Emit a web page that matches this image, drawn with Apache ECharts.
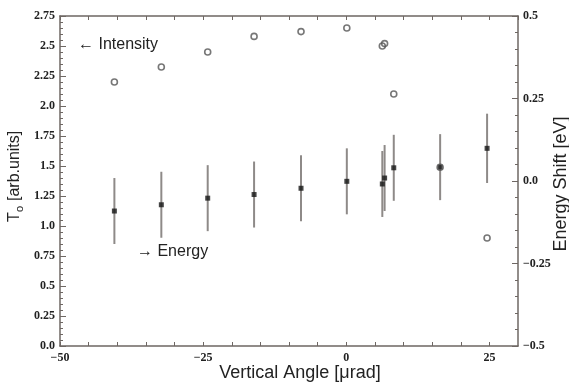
<!DOCTYPE html>
<html>
<head>
<meta charset="utf-8">
<script src="https://cdn.jsdelivr.net/npm/echarts@6/dist/echarts.min.js"></script>
<style>
  html, body { margin: 0; padding: 0; background: #fff; }
  #chart { width: 569px; height: 382px; }
</style>
</head>
<body>
<div id="chart"></div>
<script>
// Vertical angle of each measurement [µrad]
const angle = [-40.5, -32.3, -24.2, -16.1, -7.9, 0.1, 6.3, 6.7, 8.3, 16.4, 24.6];
// Transmitted intensity T_o [arb. units] (left axis)
const intensity = [2.20, 2.325, 2.45, 2.58, 2.62, 2.65, 2.50, 2.52, 2.10, 1.49, 0.90];
// Energy shift [eV] (right axis) and its error half-width
const energy = [-0.091, -0.072, -0.052, -0.041, -0.022, -0.001, -0.009, 0.009, 0.040, 0.042, 0.099];
const energyErr = [0.10, 0.10, 0.10, 0.10, 0.10, 0.10, 0.10, 0.10, 0.10, 0.10, 0.105];

// Tick labels
const xTickLabels = { '-50': '\u221250', '-25': '\u221225', '0': '0', '25': '25' };
const leftTickLabels = ['0.0', '0.25', '0.5', '0.75', '1.0', '1.25', '1.5', '1.75', '2.0', '2.25', '2.5', '2.75'];
const rightTickLabels = ['\u22120.5', '\u22120.25', '0.0', '0.25', '0.5'];

const axisColor = '#6e6763';
const sans = '"Liberation Sans", Arial, sans-serif';
const serif = '"Liberation Serif", "Times New Roman", serif';
const tickLabelStyle = { fontFamily: serif, fontWeight: 'bold', fontSize: 12, color: '#222' };
const frameLine = { onZero: false, lineStyle: { color: axisColor, width: 1.5 } };

const chart = echarts.init(document.getElementById('chart'), null, { renderer: 'canvas' });

const intensityData = angle.map((a, i) => [a, intensity[i]]);
const energyData = angle.map((a, i) => [a, energy[i]]);
const errData = angle.map((a, i) => [a, energy[i] - energyErr[i], energy[i] + energyErr[i]]);

chart.setOption({
  animation: false,
  backgroundColor: '#fff',
  grid: { left: 60, right: 51, top: 16, bottom: 36 },
  xAxis: [
    {
      type: 'value', position: 'bottom', min: -50, max: 30, interval: 5,
      axisLine: frameLine,
      axisTick: { inside: true, length: 4, lineStyle: { color: axisColor } },
      axisLabel: Object.assign({ margin: 6, showMaxLabel: false,
        formatter: v => (xTickLabels[String(v)] !== undefined ? xTickLabels[String(v)] : '') }, tickLabelStyle),
      splitLine: { show: false }
    },
    {
      type: 'value', position: 'top', min: -50, max: 30, interval: 5,
      axisLine: frameLine,
      axisTick: { inside: true, length: 4, lineStyle: { color: axisColor } },
      axisLabel: { show: false },
      splitLine: { show: false }
    }
  ],
  yAxis: [
    {
      type: 'value', position: 'left', min: 0, max: 2.75, interval: 0.25,
      axisLine: frameLine,
      axisTick: { inside: true, length: 6, lineStyle: { color: axisColor } },
      minorTick: { show: true, splitNumber: 5, length: 3, lineStyle: { color: axisColor } },
      axisLabel: Object.assign({ margin: 5, formatter: (v, i) => leftTickLabels[i] }, tickLabelStyle),
      splitLine: { show: false }, minorSplitLine: { show: false }
    },
    {
      type: 'value', position: 'right', min: -0.5, max: 0.5, interval: 0.25,
      axisLine: frameLine,
      axisTick: { inside: true, length: 6, lineStyle: { color: axisColor } },
      minorTick: { show: true, splitNumber: 5, length: 3, lineStyle: { color: axisColor } },
      axisLabel: Object.assign({ margin: 5, formatter: (v, i) => rightTickLabels[i] }, tickLabelStyle),
      splitLine: { show: false }, minorSplitLine: { show: false }
    }
  ],
  series: [
    {
      name: 'Energy error',
      type: 'custom',
      xAxisIndex: 0, yAxisIndex: 1,
      data: errData,
      encode: { x: 0, y: [1, 2] },
      renderItem: (params, api) => {
        const p0 = api.coord([api.value(0), api.value(1)]);
        const p1 = api.coord([api.value(0), api.value(2)]);
        return {
          type: 'line',
          shape: { x1: p0[0], y1: p0[1], x2: p1[0], y2: p1[1] },
          style: { stroke: '#8e8a88', lineWidth: 2 }
        };
      },
      z: 2
    },
    {
      name: 'Energy',
      type: 'scatter',
      xAxisIndex: 0, yAxisIndex: 1,
      data: energyData,
      symbol: 'rect', symbolSize: 5,
      itemStyle: { color: '#151515' },
      z: 3
    },
    {
      name: 'Intensity',
      type: 'scatter',
      xAxisIndex: 0, yAxisIndex: 0,
      data: intensityData,
      symbol: 'circle', symbolSize: 6,
      itemStyle: { color: 'rgba(255,255,255,0)', borderColor: '#555', borderWidth: 1.6 },
      z: 4
    }
  ],
  graphic: [
    {
      type: 'text', left: 78, top: 37,
      style: { text: '\u2190 Intensity', font: '16px ' + sans, fill: '#222' }
    },
    {
      type: 'text', left: 137, top: 244,
      style: { text: '\u2192 Energy', font: '16px ' + sans, fill: '#222' }
    },
    {
      type: 'text', x: 300, y: 373,
      style: { text: 'Vertical Angle [\u03bcrad]', font: '18px ' + sans, fill: '#222',
        align: 'center', verticalAlign: 'middle' }
    },
    {
      type: 'text', x: 561, y: 184, rotation: Math.PI / 2,
      style: { text: 'Energy Shift [eV]', font: '18px ' + sans, fill: '#222',
        align: 'center', verticalAlign: 'middle' }
    },
    {
      type: 'group', x: 15, y: 176, rotation: Math.PI / 2,
      children: [
        { type: 'text', x: -46, y: 0,
          style: { text: 'T', font: '16px ' + sans, fill: '#222', align: 'left', verticalAlign: 'middle' } },
        { type: 'text', x: -36, y: 5,
          style: { text: 'o', font: '11px ' + sans, fill: '#222', align: 'left', verticalAlign: 'middle' } },
        { type: 'text', x: -25, y: 0,
          style: { text: '[arb.units]', font: '16px ' + sans, fill: '#222', align: 'left', verticalAlign: 'middle' } }
      ]
    }
  ]
});
</script>
</body>
</html>
